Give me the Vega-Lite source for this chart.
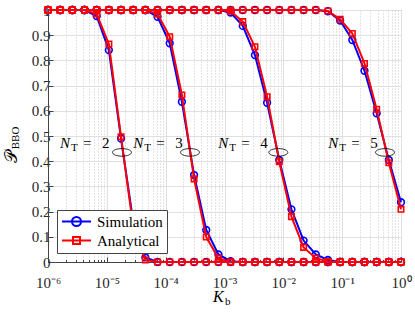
{
  "$schema": "https://vega.github.io/schema/vega-lite/v6.json",
  "width": 353,
  "height": 252,
  "autosize": {"type": "none"},
  "padding": {"left": 48, "top": 10, "right": 14, "bottom": 50},
  "background": "white",
  "config": {
    "view": {"stroke": "#444444", "strokeWidth": 1}
  },
  "datasets": {
    "curves": [
      {"NT": 2, "x": 1e-6, "Simulation": 1, "Analytical": 1},
      {"NT": 2, "x": 1.6103e-6, "Simulation": 1, "Analytical": 1},
      {"NT": 2, "x": 2.5929e-6, "Simulation": 1, "Analytical": 1},
      {"NT": 2, "x": 4.1753e-6, "Simulation": 1, "Analytical": 1},
      {"NT": 2, "x": 6.7234e-6, "Simulation": 0.976, "Analytical": 0.984},
      {"NT": 2, "x": 1.0826e-5, "Simulation": 0.841, "Analytical": 0.865},
      {"NT": 2, "x": 1.7433e-5, "Simulation": 0.49, "Analytical": 0.497},
      {"NT": 2, "x": 2.8072e-5, "Simulation": 0.16, "Analytical": 0.14},
      {"NT": 2, "x": 4.5204e-5, "Simulation": 0.018, "Analytical": 0.008},
      {"NT": 2, "x": 7.2790e-5, "Simulation": 0, "Analytical": 0},
      {"NT": 2, "x": 1.1721e-4, "Simulation": 0, "Analytical": 0},
      {"NT": 2, "x": 1.8874e-4, "Simulation": 0, "Analytical": 0},
      {"NT": 2, "x": 3.0392e-4, "Simulation": 0, "Analytical": 0},
      {"NT": 2, "x": 4.8939e-4, "Simulation": 0, "Analytical": 0},
      {"NT": 2, "x": 7.8805e-4, "Simulation": 0, "Analytical": 0},
      {"NT": 2, "x": 1.2690e-3, "Simulation": 0, "Analytical": 0},
      {"NT": 2, "x": 2.0434e-3, "Simulation": 0, "Analytical": 0},
      {"NT": 2, "x": 3.2903e-3, "Simulation": 0, "Analytical": 0},
      {"NT": 2, "x": 5.2983e-3, "Simulation": 0, "Analytical": 0},
      {"NT": 2, "x": 8.5317e-3, "Simulation": 0, "Analytical": 0},
      {"NT": 2, "x": 1.3738e-2, "Simulation": 0, "Analytical": 0},
      {"NT": 2, "x": 2.2122e-2, "Simulation": 0, "Analytical": 0},
      {"NT": 2, "x": 3.5622e-2, "Simulation": 0, "Analytical": 0},
      {"NT": 2, "x": 5.7362e-2, "Simulation": 0, "Analytical": 0},
      {"NT": 2, "x": 9.2367e-2, "Simulation": 0, "Analytical": 0},
      {"NT": 2, "x": 0.14874, "Simulation": 0, "Analytical": 0},
      {"NT": 2, "x": 0.23950, "Simulation": 0, "Analytical": 0},
      {"NT": 2, "x": 0.38566, "Simulation": 0, "Analytical": 0},
      {"NT": 2, "x": 0.62102, "Simulation": 0, "Analytical": 0},
      {"NT": 2, "x": 1, "Simulation": 0, "Analytical": 0},

      {"NT": 3, "x": 1e-6, "Simulation": 1, "Analytical": 1},
      {"NT": 3, "x": 1.6103e-6, "Simulation": 1, "Analytical": 1},
      {"NT": 3, "x": 2.5929e-6, "Simulation": 1, "Analytical": 1},
      {"NT": 3, "x": 4.1753e-6, "Simulation": 1, "Analytical": 1},
      {"NT": 3, "x": 6.7234e-6, "Simulation": 1, "Analytical": 1},
      {"NT": 3, "x": 1.0826e-5, "Simulation": 1, "Analytical": 1},
      {"NT": 3, "x": 1.7433e-5, "Simulation": 1, "Analytical": 1},
      {"NT": 3, "x": 2.8072e-5, "Simulation": 1, "Analytical": 1},
      {"NT": 3, "x": 4.5204e-5, "Simulation": 1, "Analytical": 1},
      {"NT": 3, "x": 7.2790e-5, "Simulation": 0.973, "Analytical": 0.984},
      {"NT": 3, "x": 1.1721e-4, "Simulation": 0.868, "Analytical": 0.894},
      {"NT": 3, "x": 1.8874e-4, "Simulation": 0.636, "Analytical": 0.663},
      {"NT": 3, "x": 3.0392e-4, "Simulation": 0.345, "Analytical": 0.33},
      {"NT": 3, "x": 4.8939e-4, "Simulation": 0.127, "Analytical": 0.099},
      {"NT": 3, "x": 7.8805e-4, "Simulation": 0.03, "Analytical": 0.015},
      {"NT": 3, "x": 1.2690e-3, "Simulation": 0.003, "Analytical": 0},
      {"NT": 3, "x": 2.0434e-3, "Simulation": 0, "Analytical": 0},
      {"NT": 3, "x": 3.2903e-3, "Simulation": 0, "Analytical": 0},
      {"NT": 3, "x": 5.2983e-3, "Simulation": 0, "Analytical": 0},
      {"NT": 3, "x": 8.5317e-3, "Simulation": 0, "Analytical": 0},
      {"NT": 3, "x": 1.3738e-2, "Simulation": 0, "Analytical": 0},
      {"NT": 3, "x": 2.2122e-2, "Simulation": 0, "Analytical": 0},
      {"NT": 3, "x": 3.5622e-2, "Simulation": 0, "Analytical": 0},
      {"NT": 3, "x": 5.7362e-2, "Simulation": 0, "Analytical": 0},
      {"NT": 3, "x": 9.2367e-2, "Simulation": 0, "Analytical": 0},
      {"NT": 3, "x": 0.14874, "Simulation": 0, "Analytical": 0},
      {"NT": 3, "x": 0.23950, "Simulation": 0, "Analytical": 0},
      {"NT": 3, "x": 0.38566, "Simulation": 0, "Analytical": 0},
      {"NT": 3, "x": 0.62102, "Simulation": 0, "Analytical": 0},
      {"NT": 3, "x": 1, "Simulation": 0, "Analytical": 0},

      {"NT": 4, "x": 1e-6, "Simulation": 1, "Analytical": 1},
      {"NT": 4, "x": 1.6103e-6, "Simulation": 1, "Analytical": 1},
      {"NT": 4, "x": 2.5929e-6, "Simulation": 1, "Analytical": 1},
      {"NT": 4, "x": 4.1753e-6, "Simulation": 1, "Analytical": 1},
      {"NT": 4, "x": 6.7234e-6, "Simulation": 1, "Analytical": 1},
      {"NT": 4, "x": 1.0826e-5, "Simulation": 1, "Analytical": 1},
      {"NT": 4, "x": 1.7433e-5, "Simulation": 1, "Analytical": 1},
      {"NT": 4, "x": 2.8072e-5, "Simulation": 1, "Analytical": 1},
      {"NT": 4, "x": 4.5204e-5, "Simulation": 1, "Analytical": 1},
      {"NT": 4, "x": 7.2790e-5, "Simulation": 1, "Analytical": 1},
      {"NT": 4, "x": 1.1721e-4, "Simulation": 1, "Analytical": 1},
      {"NT": 4, "x": 1.8874e-4, "Simulation": 1, "Analytical": 1},
      {"NT": 4, "x": 3.0392e-4, "Simulation": 1, "Analytical": 1},
      {"NT": 4, "x": 4.8939e-4, "Simulation": 1, "Analytical": 1},
      {"NT": 4, "x": 7.8805e-4, "Simulation": 1, "Analytical": 1},
      {"NT": 4, "x": 1.2690e-3, "Simulation": 0.99, "Analytical": 0.995},
      {"NT": 4, "x": 2.0434e-3, "Simulation": 0.937, "Analytical": 0.954},
      {"NT": 4, "x": 3.2903e-3, "Simulation": 0.821, "Analytical": 0.854},
      {"NT": 4, "x": 5.2983e-3, "Simulation": 0.632, "Analytical": 0.656},
      {"NT": 4, "x": 8.5317e-3, "Simulation": 0.405, "Analytical": 0.398},
      {"NT": 4, "x": 1.3738e-2, "Simulation": 0.209, "Analytical": 0.18},
      {"NT": 4, "x": 2.2122e-2, "Simulation": 0.085, "Analytical": 0.058},
      {"NT": 4, "x": 3.5622e-2, "Simulation": 0.03, "Analytical": 0.015},
      {"NT": 4, "x": 5.7362e-2, "Simulation": 0.008, "Analytical": 0.002},
      {"NT": 4, "x": 9.2367e-2, "Simulation": 0, "Analytical": 0},
      {"NT": 4, "x": 0.14874, "Simulation": 0, "Analytical": 0},
      {"NT": 4, "x": 0.23950, "Simulation": 0, "Analytical": 0},
      {"NT": 4, "x": 0.38566, "Simulation": 0, "Analytical": 0},
      {"NT": 4, "x": 0.62102, "Simulation": 0, "Analytical": 0},
      {"NT": 4, "x": 1, "Simulation": 0, "Analytical": 0},

      {"NT": 5, "x": 1e-6, "Simulation": 1, "Analytical": 1},
      {"NT": 5, "x": 1.6103e-6, "Simulation": 1, "Analytical": 1},
      {"NT": 5, "x": 2.5929e-6, "Simulation": 1, "Analytical": 1},
      {"NT": 5, "x": 4.1753e-6, "Simulation": 1, "Analytical": 1},
      {"NT": 5, "x": 6.7234e-6, "Simulation": 1, "Analytical": 1},
      {"NT": 5, "x": 1.0826e-5, "Simulation": 1, "Analytical": 1},
      {"NT": 5, "x": 1.7433e-5, "Simulation": 1, "Analytical": 1},
      {"NT": 5, "x": 2.8072e-5, "Simulation": 1, "Analytical": 1},
      {"NT": 5, "x": 4.5204e-5, "Simulation": 1, "Analytical": 1},
      {"NT": 5, "x": 7.2790e-5, "Simulation": 1, "Analytical": 1},
      {"NT": 5, "x": 1.1721e-4, "Simulation": 1, "Analytical": 1},
      {"NT": 5, "x": 1.8874e-4, "Simulation": 1, "Analytical": 1},
      {"NT": 5, "x": 3.0392e-4, "Simulation": 1, "Analytical": 1},
      {"NT": 5, "x": 4.8939e-4, "Simulation": 1, "Analytical": 1},
      {"NT": 5, "x": 7.8805e-4, "Simulation": 1, "Analytical": 1},
      {"NT": 5, "x": 1.2690e-3, "Simulation": 1, "Analytical": 1},
      {"NT": 5, "x": 2.0434e-3, "Simulation": 1, "Analytical": 1},
      {"NT": 5, "x": 3.2903e-3, "Simulation": 1, "Analytical": 1},
      {"NT": 5, "x": 5.2983e-3, "Simulation": 1, "Analytical": 1},
      {"NT": 5, "x": 8.5317e-3, "Simulation": 1, "Analytical": 1},
      {"NT": 5, "x": 1.3738e-2, "Simulation": 1, "Analytical": 1},
      {"NT": 5, "x": 2.2122e-2, "Simulation": 1, "Analytical": 1},
      {"NT": 5, "x": 3.5622e-2, "Simulation": 1, "Analytical": 1},
      {"NT": 5, "x": 5.7362e-2, "Simulation": 0.995, "Analytical": 0.996},
      {"NT": 5, "x": 9.2367e-2, "Simulation": 0.958, "Analytical": 0.963},
      {"NT": 5, "x": 0.14874, "Simulation": 0.881, "Analytical": 0.907},
      {"NT": 5, "x": 0.23950, "Simulation": 0.759, "Analytical": 0.788},
      {"NT": 5, "x": 0.38566, "Simulation": 0.59, "Analytical": 0.606},
      {"NT": 5, "x": 0.62102, "Simulation": 0.405, "Analytical": 0.394},
      {"NT": 5, "x": 1, "Simulation": 0.237, "Analytical": 0.209}
    ],
    "labels": [
      {"NT": "2", "x": 1.60e-6, "y": 0.451},
      {"NT": "3", "x": 2.82e-5, "y": 0.451},
      {"NT": "4", "x": 7.85e-4, "y": 0.451},
      {"NT": "5", "x": 5.82e-2, "y": 0.451}
    ],
    "ellipses": [
      {"NT": "2", "x": 1.81e-5, "y": 0.435},
      {"NT": "3", "x": 2.59e-4, "y": 0.435},
      {"NT": "4", "x": 8.22e-3, "y": 0.435},
      {"NT": "5", "x": 0.535, "y": 0.435}
    ],
    "xtitle": [{"x": 6.38e-4, "y": -0.1575}],
    "ytitle": [{"x": 3.03e-7, "y": 0.392}]
  },
  "encoding": {
    "x": {
      "field": "x", "type": "quantitative", "title": null,
      "scale": {"type": "log", "domain": [1e-6, 1], "nice": false},
      "axis": {
        "title": null,
        "values": [1e-6, 2e-6, 3e-6, 4e-6, 5e-6, 6e-6, 7e-6, 8e-6, 9e-6,
                   1e-5, 2e-5, 3e-5, 4e-5, 5e-5, 6e-5, 7e-5, 8e-5, 9e-5,
                   1e-4, 2e-4, 3e-4, 4e-4, 5e-4, 6e-4, 7e-4, 8e-4, 9e-4,
                   1e-3, 2e-3, 3e-3, 4e-3, 5e-3, 6e-3, 7e-3, 8e-3, 9e-3,
                   1e-2, 2e-2, 3e-2, 4e-2, 5e-2, 6e-2, 7e-2, 8e-2, 9e-2,
                   0.1, 0.2, 0.3, 0.4, 0.5, 0.6, 0.7, 0.8, 0.9, 1],
        "grid": true,
        "gridOpacity": 1,
        "gridWidth": 1,
        "gridDash": {"condition": {"test": "abs(log(datum.value)/LN10 - round(log(datum.value)/LN10)) > 0.01", "value": [1, 2]}, "value": []},
        "gridColor": {"condition": {"test": "abs(log(datum.value)/LN10 - round(log(datum.value)/LN10)) > 0.01", "value": "#c8c8c8"}, "value": "#e0e0e0"},
        "tickSize": {"condition": {"test": "abs(log(datum.value)/LN10 - round(log(datum.value)/LN10)) > 0.01", "value": -2.5}, "value": -5},
        "tickColor": "#444444",
        "domainColor": "#444444",
        "labelExpr": "abs(log(datum.value)/LN10 - round(log(datum.value)/LN10)) > 0.01 ? '' : datum.value < 5e-6 ? '10⁻⁶' : datum.value < 5e-5 ? '10⁻⁵' : datum.value < 5e-4 ? '10⁻⁴' : datum.value < 5e-3 ? '10⁻³' : datum.value < 5e-2 ? '10⁻²' : datum.value < 0.5 ? '10⁻¹' : '10⁰'",
        "labelOverlap": false,
        "labelFlush": false,
        "labelBound": false,
        "labelFont": "Liberation Serif",
        "labelFontSize": 15,
        "labelColor": "#262626",
        "labelPadding": 18,
        "encoding": {"labels": {"update": {"font": {"value": "Liberation Serif"}, "fontSize": {"value": 15}}}}
      }
    },
    "y": {
      "field": "y", "type": "quantitative", "title": null,
      "scale": {"domain": [0, 1], "nice": false, "zero": false},
      "axis": {
        "title": null,
        "values": [0, 0.1, 0.2, 0.3, 0.4, 0.5, 0.6, 0.7, 0.8, 0.9, 1],
        "format": "~g",
        "grid": true,
        "gridColor": "#e0e0e0",
        "gridOpacity": 1,
        "gridWidth": 1,
        "tickSize": -5,
        "tickColor": "#444444",
        "domainColor": "#444444",
        "labelOverlap": false,
        "labelFlush": false,
        "labelBound": false,
        "labelFont": "Liberation Serif",
        "labelFontSize": 15,
        "labelColor": "#262626",
        "labelPadding": 3,
        "encoding": {"labels": {"update": {"font": {"value": "Liberation Serif"}, "fontSize": {"value": 15}}}}
      }
    }
  },
  "layer": [
    {
      "data": {"name": "curves"},
      "transform": [
        {"fold": ["Simulation", "Analytical"], "as": ["series", "y"]},
        {"filter": "datum.series === 'Simulation'"}
      ],
      "layer": [
        {
          "mark": {"type": "line", "strokeWidth": 2},
          "encoding": {"detail": {"field": "NT", "type": "nominal"}}
        },
        {
          "mark": {"type": "point", "shape": "circle", "size": 45, "filled": false, "strokeWidth": 1.6, "opacity": 1}
        }
      ],
      "encoding": {
        "color": {
          "field": "series", "type": "nominal",
          "scale": {"domain": ["Simulation", "Analytical"], "range": ["#0000ff", "#ff0000"]},
          "legend": {
            "title": null,
            "orient": "bottom-left",
            "offset": 9,
            "fillColor": "white",
            "strokeColor": "#444444",
            "padding": 4,
            "labelFont": "Liberation Serif",
            "labelFontSize": 15,
            "labelColor": "black",
            "symbolSize": 100,
            "symbolOffset": 8,
            "labelOffset": 13,
            "rowPadding": 3,
            "symbolStrokeWidth": 2,
            "encode": {
              "labels": {"update": {"font": {"value": "Liberation Serif"}, "fontSize": {"value": 15}}},
              "symbols": {
                "update": {
                  "shape": {"signal": "datum.value === 'Simulation' ? 'M-2.9,0L2.9,0M-0.9,0A0.9,0.9,0,1,0,0.9,0A0.9,0.9,0,1,0,-0.9,0' : 'M-2.9,0L2.9,0M-0.7,-0.7L0.7,-0.7L0.7,0.7L-0.7,0.7Z'"},
                  "fill": {"value": "transparent"},
                  "strokeWidth": {"value": 2}
                }
              }
            }
          }
        }
      }
    },
    {
      "data": {"name": "curves"},
      "transform": [
        {"fold": ["Simulation", "Analytical"], "as": ["series", "y"]},
        {"filter": "datum.series === 'Analytical'"}
      ],
      "layer": [
        {
          "mark": {"type": "line", "strokeWidth": 2},
          "encoding": {"detail": {"field": "NT", "type": "nominal"}}
        },
        {
          "mark": {"type": "point", "shape": "square", "size": 30, "filled": false, "strokeWidth": 1.6, "opacity": 1}
        }
      ],
      "encoding": {
        "color": {
          "field": "series", "type": "nominal",
          "scale": {"domain": ["Simulation", "Analytical"], "range": ["#0000ff", "#ff0000"]},
          "legend": {
            "title": null,
            "orient": "bottom-left",
            "offset": 9,
            "fillColor": "white",
            "strokeColor": "#444444",
            "padding": 4,
            "labelFont": "Liberation Serif",
            "labelFontSize": 15,
            "labelColor": "black",
            "symbolSize": 100,
            "symbolOffset": 8,
            "labelOffset": 13,
            "rowPadding": 3,
            "symbolStrokeWidth": 2,
            "encode": {
              "labels": {"update": {"font": {"value": "Liberation Serif"}, "fontSize": {"value": 15}}},
              "symbols": {
                "update": {
                  "shape": {"signal": "datum.value === 'Simulation' ? 'M-2.9,0L2.9,0M-0.9,0A0.9,0.9,0,1,0,0.9,0A0.9,0.9,0,1,0,-0.9,0' : 'M-2.9,0L2.9,0M-0.7,-0.7L0.7,-0.7L0.7,0.7L-0.7,0.7Z'"},
                  "fill": {"value": "transparent"},
                  "strokeWidth": {"value": 2}
                }
              }
            }
          }
        }
      }
    },
    {
      "data": {"name": "labels"},
      "layer": [
        {"mark": {"type": "text", "text": "N", "font": "Liberation Serif", "fontStyle": "italic", "fontSize": 15, "align": "left", "baseline": "alphabetic", "color": "black"}},
        {"mark": {"type": "text", "text": "T", "font": "Liberation Serif", "fontSize": 11, "align": "left", "baseline": "alphabetic", "dx": 11, "dy": 3, "color": "black"}},
        {"mark": {"type": "text", "text": "=", "font": "Liberation Serif", "fontSize": 15, "align": "left", "baseline": "alphabetic", "dx": 23, "color": "black"}},
        {"mark": {"type": "text", "font": "Liberation Serif", "fontSize": 15, "align": "left", "baseline": "alphabetic", "dx": 42, "color": "black"},
         "encoding": {"text": {"field": "NT", "type": "nominal"}}}
      ]
    },
    {
      "data": {"name": "ellipses"},
      "mark": {"type": "point", "shape": "M-1,0A1,0.4,0,1,0,1,0A1,0.4,0,1,0,-1,0Z", "size": 361, "filled": false, "stroke": "black", "strokeWidth": 0.8, "opacity": 1}
    },
    {
      "data": {"name": "xtitle"},
      "layer": [
        {"mark": {"type": "text", "text": "K", "font": "Liberation Serif", "fontStyle": "italic", "fontSize": 16, "align": "left", "baseline": "alphabetic", "color": "black"}},
        {"mark": {"type": "text", "text": "b", "font": "Liberation Serif", "fontSize": 11, "align": "left", "baseline": "alphabetic", "dx": 12, "dy": 3, "color": "black"}}
      ]
    },
    {
      "data": {"name": "ytitle"},
      "layer": [
        {"mark": {"type": "text", "text": "𝒫", "font": "Liberation Serif, DejaVu Serif, DejaVu Sans, serif", "fontSize": 17, "angle": 270, "align": "left", "baseline": "alphabetic", "color": "black"}},
        {"mark": {"type": "text", "text": "BBO", "font": "Liberation Serif", "fontSize": 11, "angle": 270, "align": "left", "baseline": "alphabetic", "dx": 14, "dy": 2, "color": "black"}}
      ]
    }
  ]
}
